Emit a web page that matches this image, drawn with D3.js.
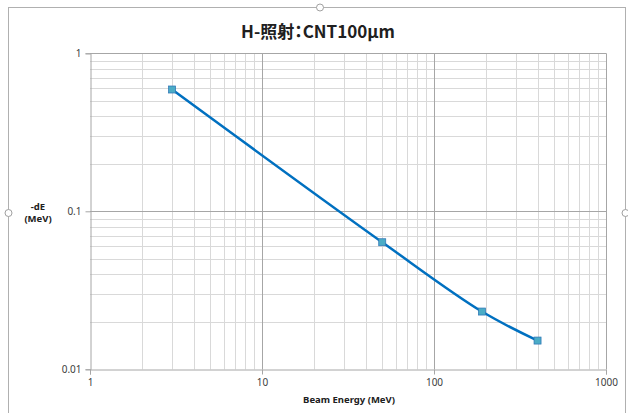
<!DOCTYPE html>
<html><head><meta charset="utf-8">
<script src="https://cdn.jsdelivr.net/npm/d3@7"></script>
<style>body{margin:0;background:#fff;overflow:hidden}svg{display:block}</style>
</head><body>
<svg id="c" width="628" height="413"></svg>
<script>
const titleText = "H-照射：CNT100μm";
const xTitle = "Beam Energy (MeV)";
const yTitle = ["-dE", "(MeV)"];
const energies = [3, 50, 190, 400];
const dE = [0.59, 0.0637, 0.0232, 0.0152];
const xTicks = [1, 10, 100, 1000];
const yTicks = [0.01, 0.1, 1];
const xTickLabels = ["1", "10", "100", "1000"];
const yTickLabels = ["0.01", "0.1", "1"];

const svg = d3.select("#c");
const font = "'Noto Sans', 'DejaVu Sans', sans-serif";

// chart frame
svg.append("rect").attr("x", 8.5).attr("y", 7.5).attr("width", 617).attr("height", 420)
  .attr("fill", "#fff").attr("stroke", "#b0b0b0").attr("stroke-width", 1);
[[320, 7.5], [8.5, 213], [625.5, 213]].forEach(([cx, cy]) => {
  svg.append("circle").attr("cx", cx).attr("cy", cy).attr("r", 3.5)
    .attr("fill", "#fff").attr("stroke", "#a0a0a0").attr("stroke-width", 1);
});

const x = d3.scaleLog().domain([1, 1000]).range([90, 606]);
const y = d3.scaleLog().domain([0.01, 1]).range([369.3, 53.3]);

// minor grid
const minorX = [], minorY = [];
for (let d = 1; d < 1000; d *= 10) for (let k = 2; k <= 9; k++) minorX.push(d * k);
for (let d = 0.01; d < 0.99; d *= 10) for (let k = 2; k <= 9; k++) minorY.push(d * k);
const g = svg.append("g");
g.selectAll(".mx").data(minorX).join("line")
  .attr("x1", d => Math.round(x(d)) + 0.5).attr("x2", d => Math.round(x(d)) + 0.5)
  .attr("y1", y(1)).attr("y2", y(0.01)).attr("stroke", "#d9d9d9").attr("stroke-width", 1);
g.selectAll(".my").data(minorY).join("line")
  .attr("y1", d => Math.round(y(d)) + 0.5).attr("y2", d => Math.round(y(d)) + 0.5)
  .attr("x1", x(1)).attr("x2", x(1000)).attr("stroke", "#d9d9d9").attr("stroke-width", 1);
// major grid
g.selectAll(".Mx").data(xTicks.slice(1)).join("line")
  .attr("x1", d => Math.round(x(d)) + 0.5).attr("x2", d => Math.round(x(d)) + 0.5)
  .attr("y1", y(1)).attr("y2", y(0.01)).attr("stroke", "#a6a6a6").attr("stroke-width", 1);
g.selectAll(".My").data(yTicks.slice(1)).join("line")
  .attr("y1", d => Math.round(y(d)) + 0.5).attr("y2", d => Math.round(y(d)) + 0.5)
  .attr("x1", x(1)).attr("x2", x(1000)).attr("stroke", "#a6a6a6").attr("stroke-width", 1);

// axes
const xAxis = d3.axisBottom(x).tickValues(xTicks).tickFormat((d, i) => xTickLabels[i]).tickSizeOuter(0).tickSize(5).tickPadding(4);
const yAxis = d3.axisLeft(y).tickValues(yTicks).tickFormat((d, i) => yTickLabels[i]).tickSizeOuter(0).tickSize(5).tickPadding(4);
const gx = svg.append("g").attr("transform", `translate(0,${Math.round(y(0.01)) + 0.5})`).call(xAxis);
const gy = svg.append("g").attr("transform", `translate(${Math.round(x(1)) + 0.5},0)`).call(yAxis);
[gx, gy].forEach(a => {
  a.select(".domain").attr("stroke", "#a6a6a6");
  a.selectAll(".tick line").attr("stroke", "#a6a6a6");
  a.selectAll("text").attr("fill", "#404040").style("font-family", font).style("font-size", "10px");
});

// line
const pts = energies.map((e, i) => [e, dE[i]]);
svg.append("path").datum(pts)
  .attr("d", d3.line().x(d => x(d[0])).y(d => y(d[1])).curve(d3.curveCatmullRom.alpha(0.5)))
  .attr("fill", "none").attr("stroke", "#0070c0").attr("stroke-width", 2.5);
svg.selectAll(".pt").data(pts).join("rect")
  .attr("x", d => x(d[0]) - 3.5).attr("y", d => y(d[1]) - 3.5)
  .attr("width", 7).attr("height", 7)
  .attr("fill", "#4bacc6").attr("stroke", "#2e75b6").attr("stroke-width", 0.75);

// titles
svg.append("text").attr("x", 318).attr("y", 38).attr("text-anchor", "middle")
  .style("font-family", "'Noto Sans CJK JP', sans-serif").style("font-weight", "bold").style("font-size", "17px")
  .style("font-feature-settings", "'palt' 1")
  .attr("fill", "#202020").text(titleText);
svg.append("text").attr("x", 349).attr("y", 403).attr("text-anchor", "middle")
  .style("font-family", font).style("font-weight", "bold").style("font-size", "9.5px")
  .attr("fill", "#202020").text(xTitle);
yTitle.forEach((t, i) => {
  svg.append("text").attr("x", 38).attr("y", 210 + i * 12).attr("text-anchor", "middle")
    .style("font-family", font).style("font-weight", "bold").style("font-size", "9.5px")
    .attr("fill", "#202020").text(t);
});
</script>
</body></html>
